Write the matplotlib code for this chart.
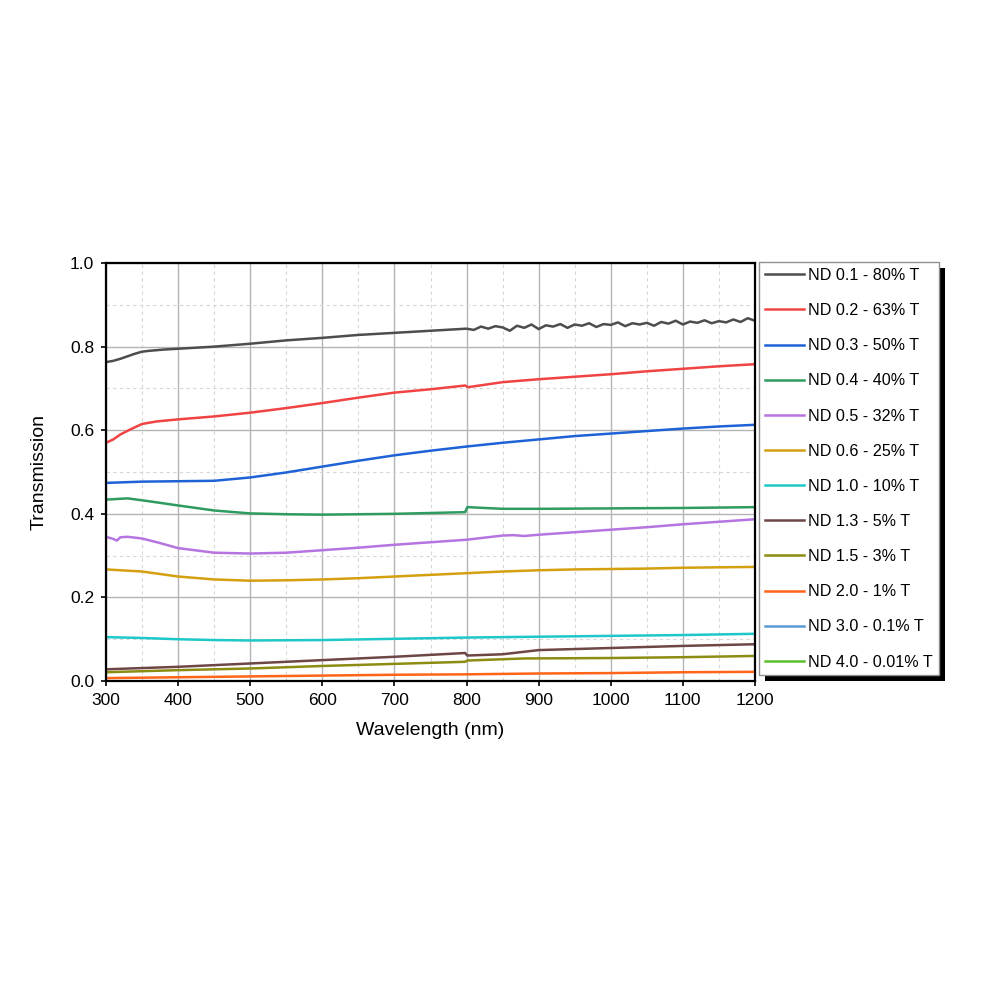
import matplotlib
matplotlib.use("Agg")
import matplotlib.pyplot as plt
from matplotlib.patches import Rectangle
from matplotlib.ticker import MultipleLocator

plt.rcParams["font.family"] = ["Liberation Sans", "DejaVu Sans"]

# wavelengths (nm) and transmission
wl_01 = [300, 310, 320, 330, 340, 350, 360, 380, 400, 450, 500, 550, 600, 650, 700, 750,
         790, 800, 810, 820, 830, 840, 850, 860, 870, 880, 890, 900, 910, 920, 930, 940,
         950, 960, 970, 980, 990, 1000, 1010, 1020, 1030, 1040, 1050, 1060, 1070, 1080,
         1090, 1100, 1110, 1120, 1130, 1140, 1150, 1160, 1170, 1180, 1190, 1200]
t_01 = [0.763, 0.766, 0.771, 0.777, 0.783, 0.788, 0.790, 0.793, 0.795, 0.800, 0.807, 0.815,
        0.821, 0.828, 0.833, 0.838, 0.842, 0.843, 0.840, 0.848, 0.843, 0.849, 0.846, 0.838,
        0.850, 0.845, 0.853, 0.842, 0.851, 0.848, 0.854, 0.845, 0.853, 0.850, 0.856, 0.847,
        0.854, 0.852, 0.858, 0.849, 0.856, 0.853, 0.857, 0.850, 0.859, 0.855, 0.862, 0.853,
        0.860, 0.857, 0.863, 0.856, 0.861, 0.858, 0.865, 0.859, 0.868, 0.862]

wl_02 = [300, 310, 320, 335, 350, 370, 400, 450, 500, 550, 600, 650, 700, 750, 798, 802,
         850, 900, 950, 1000, 1050, 1100, 1150, 1200]
t_02 = [0.570, 0.578, 0.590, 0.603, 0.615, 0.621, 0.626, 0.633, 0.642, 0.653, 0.665, 0.678,
        0.690, 0.698, 0.707, 0.703, 0.715, 0.722, 0.728, 0.734, 0.741, 0.747, 0.753, 0.758]

wl_03 = [300, 350, 400, 450, 500, 550, 600, 650, 700, 750, 800, 850, 900, 950, 1000, 1050,
         1100, 1150, 1200]
t_03 = [0.474, 0.477, 0.478, 0.479, 0.487, 0.499, 0.513, 0.527, 0.540, 0.551, 0.561, 0.570,
        0.578, 0.586, 0.592, 0.598, 0.604, 0.609, 0.613]

wl_04 = [300, 330, 360, 400, 450, 500, 550, 600, 650, 700, 750, 798, 801, 850, 900, 1000,
         1100, 1200]
t_04 = [0.434, 0.437, 0.430, 0.420, 0.408, 0.401, 0.399, 0.398, 0.399, 0.400, 0.402, 0.404,
        0.416, 0.412, 0.412, 0.413, 0.414, 0.416]

wl_05 = [300, 310, 315, 320, 330, 350, 375, 400, 450, 500, 550, 600, 650, 700, 750, 800,
         850, 865, 880, 900, 950, 1000, 1050, 1100, 1150, 1200]
t_05 = [0.345, 0.340, 0.336, 0.344, 0.345, 0.341, 0.330, 0.318, 0.307, 0.305, 0.307, 0.313,
        0.319, 0.326, 0.332, 0.338, 0.348, 0.349, 0.347, 0.350, 0.356, 0.362, 0.368, 0.375,
        0.381, 0.387]

wl_06 = [300, 350, 400, 450, 500, 550, 600, 650, 700, 750, 800, 850, 900, 950, 1000, 1050,
         1100, 1150, 1200]
t_06 = [0.267, 0.262, 0.250, 0.243, 0.240, 0.241, 0.243, 0.246, 0.250, 0.254, 0.258, 0.262,
        0.265, 0.267, 0.268, 0.269, 0.271, 0.272, 0.273]

wl_10 = [300, 350, 400, 450, 500, 600, 700, 800, 900, 1000, 1100, 1200]
t_10 = [0.105, 0.103, 0.100, 0.098, 0.097, 0.098, 0.101, 0.104, 0.106, 0.108, 0.110, 0.113]

wl_13 = [300, 400, 500, 600, 700, 798, 801, 850, 880, 900, 1000, 1100, 1200]
t_13 = [0.028, 0.034, 0.042, 0.050, 0.058, 0.067, 0.061, 0.064, 0.070, 0.074, 0.079, 0.084,
        0.088]

wl_15 = [300, 400, 500, 600, 700, 798, 801, 880, 1000, 1100, 1200]
t_15 = [0.021, 0.026, 0.030, 0.036, 0.041, 0.046, 0.049, 0.054, 0.055, 0.057, 0.060]

wl_20 = [300, 400, 500, 600, 700, 800, 900, 1000, 1100, 1200]
t_20 = [0.007, 0.009, 0.011, 0.013, 0.015, 0.016, 0.018, 0.019, 0.021, 0.022]

wl_30 = [300, 1200]
t_30 = [0.001, 0.001]

wl_40 = [375, 752]
t_40 = [0.001, 0.001]

labels = ["ND 0.1 - 80% T", "ND 0.2 - 63% T", "ND 0.3 - 50% T", "ND 0.4 - 40% T",
          "ND 0.5 - 32% T", "ND 0.6 - 25% T", "ND 1.0 - 10% T", "ND 1.3 - 5% T",
          "ND 1.5 - 3% T", "ND 2.0 - 1% T", "ND 3.0 - 0.1% T", "ND 4.0 - 0.01% T"]
series = [(wl_01, t_01), (wl_02, t_02), (wl_03, t_03), (wl_04, t_04), (wl_05, t_05),
          (wl_06, t_06), (wl_10, t_10), (wl_13, t_13), (wl_15, t_15), (wl_20, t_20),
          (wl_30, t_30), (wl_40, t_40)]
colors = ["#4d4d4d", "#f04444", "#1f62d6", "#2e9c60", "#b574e0", "#d4a010", "#1ec8c8",
          "#6e4646", "#8c8c12", "#ff6418", "#5b9bd5", "#5cc02a"]

fig = plt.figure(figsize=(9.9, 9.9), dpi=100)
ax = fig.add_axes([0.1071, 0.3121, 0.6555, 0.4222])

handles = []
for (x, y), lab, c in zip(series, labels, colors):
    h, = ax.plot(x, y, color=c, lw=1.8, label=lab, solid_joinstyle="round")
    handles.append(h)

ax.set_xlim(300, 1200)
ax.set_ylim(0, 1.0)
ax.xaxis.set_major_locator(MultipleLocator(100))
ax.xaxis.set_minor_locator(MultipleLocator(50))
ax.yaxis.set_major_locator(MultipleLocator(0.2))
ax.yaxis.set_minor_locator(MultipleLocator(0.1))
ax.yaxis.set_major_formatter(lambda v, p: f"{v:.1f}")
ax.grid(which="major", color="#b4b4b4", lw=1.0)
ax.grid(which="minor", color="#d6d6d6", lw=0.8, ls=(0, (3, 3)))
ax.set_axisbelow(True)
ax.tick_params(which="major", length=3.5, width=1.2, labelsize=12.5, pad=5)
ax.tick_params(which="minor", length=0)
for s in ax.spines.values():
    s.set_color("black")
    s.set_linewidth(1.6)

ax.set_xlabel("Wavelength (nm)", fontsize=14, labelpad=10)
ax.set_ylabel("Transmission", fontsize=14, labelpad=16)

leg = fig.legend(handles=handles, loc="upper left", bbox_to_anchor=(0.767, 0.735),
                 fontsize=11.6, frameon=True, fancybox=False, edgecolor="#909090",
                 framealpha=1, borderpad=0.35, labelspacing=1.25, handlelength=2.4,
                 handletextpad=0.3, borderaxespad=0)
leg.get_frame().set_linewidth(1.0)
leg.set_zorder(5)

fig.canvas.draw()
bb = leg.get_window_extent()
inv = fig.transFigure.inverted()
(x0, y0), (x1, y1) = inv.transform([(bb.x0 + 6, bb.y0 - 6), (bb.x1 + 6, bb.y1 - 6)])
fig.add_artist(Rectangle((x0, y0), x1 - x0, y1 - y0, transform=fig.transFigure,
                         facecolor="black", edgecolor="none", zorder=4))

fig.savefig("out.png", dpi=100)
